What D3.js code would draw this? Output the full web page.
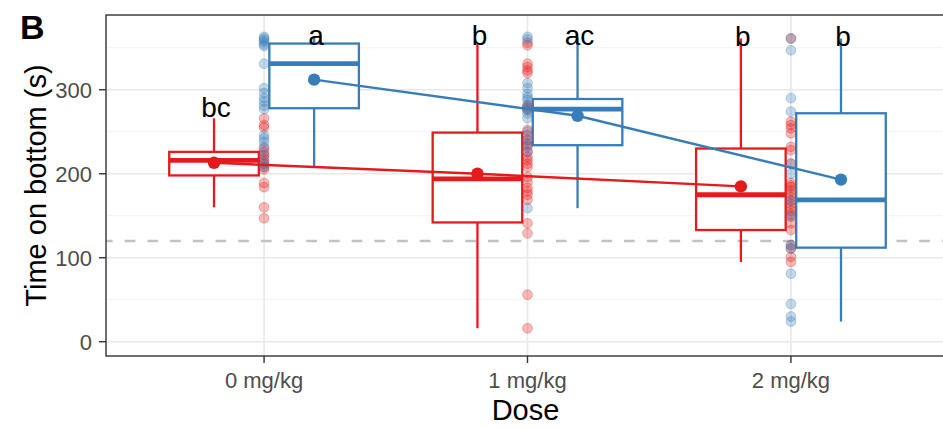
<!DOCTYPE html>
<html>
<head>
<meta charset="utf-8">
<script src="https://cdn.jsdelivr.net/npm/d3@7"></script>
<style>
  body { margin: 0; background: #fff; }
  text { font-family: "Liberation Sans", Arial, sans-serif; }
  .grid-major { stroke: #e8e8e8; stroke-width: 1.6; }
  .grid-minor { stroke: #f1f1f1; stroke-width: 0.9; }
  .tick-label { fill: #4d4d4d; font-size: 22px; }
  .axis-title { fill: #000; font-size: 29px; }
</style>
</head>
<body>
<div id="chart-area"></div>
<script>
// data
const doses = ["0 mg/kg", "1 mg/kg", "2 mg/kg"]
const groups = ["red", "blue"]
const groupColors = ["#e41a1c", "#377eb8"]

const yTicks = [0, 100, 200, 300]
const yMinorTicks = [50, 150, 250, 350]
const refLine = 120

// box stats per dose [red, blue]
const boxLow    = [[160, 208], [16, 159], [95, 24]]
const boxQ1     = [[198, 278], [142, 234], [133, 112]]
const boxMedian = [[216, 331], [194, 277], [175, 169]]
const boxQ3     = [[226, 355], [249, 289], [230, 272]]
const boxHigh   = [[266, 363], [356, 362], [361, 361]]
const groupMeans = [[213, 312], [200, 269], [185, 193]]

const letters = [["bc", "a"], ["b", "ac"], ["b", "b"]]
const letterY = [[267, 353], [353, 353], [352, 352]]

// individual points per dose [red, blue]
const redPoints = [
  [266, 258, 255, 230, 226, 222, 218, 215, 212, 208, 205, 189, 184, 160, 147],
  [356, 353, 331, 327, 323, 320, 282, 279, 276, 252, 246, 240, 236, 232, 226, 220, 216, 212, 208, 196, 190, 183, 179, 175, 169, 141, 129, 56, 16],
  [361, 262, 258, 254, 248, 232, 228, 212, 189, 186, 184, 180, 176, 172, 168, 164, 160, 156, 152, 149, 141, 133, 115, 111, 101, 95]
]
const bluePoints = [
  [363, 361, 359, 357, 354, 352, 331, 302, 296, 290, 286, 281, 277, 246, 242, 238, 232, 222, 212, 208],
  [363, 360, 308, 302, 295, 291, 288, 281, 278, 276, 272, 266, 250, 240, 234, 226, 159],
  [361, 347, 290, 274, 212, 200, 168, 150, 115, 111, 81, 45, 30, 24]
]

async function drawChart() {

  // 1. Dimensions
  const dimensions = {
    width: 943,
    height: 428,
    margin: { top: 15, right: -6, bottom: 72, left: 106 },
  }
  dimensions.boundedWidth = dimensions.width - dimensions.margin.left - dimensions.margin.right
  dimensions.boundedHeight = dimensions.height - dimensions.margin.top - dimensions.margin.bottom

  // 2. Canvas
  const wrapper = d3.select("#chart-area")
    .append("svg")
      .attr("width", dimensions.width)
      .attr("height", dimensions.height)

  wrapper.append("defs").append("clipPath")
      .attr("id", "panel-clip")
    .append("rect")
      .attr("width", dimensions.boundedWidth)
      .attr("height", dimensions.boundedHeight)

  const bounds = wrapper.append("g")
      .attr("transform", `translate(${dimensions.margin.left}, ${dimensions.margin.top})`)

  // 3. Scales
  const xScale = d3.scalePoint()
    .domain(doses)
    .range([0, dimensions.boundedWidth])
    .padding(0.6)

  const step = xScale.step()
  const dodge = step * 0.19
  const boxWidth = step * 0.34
  const groupX = (dose, gi) => xScale(dose) + (gi === 0 ? -dodge : dodge)

  const yScale = d3.scaleLinear()
    .domain([-17, 389])
    .range([dimensions.boundedHeight, 0])

  // 4. Peripherals
  const grid = bounds.append("g")
  yMinorTicks.forEach(d => {
    grid.append("line")
      .attr("class", "grid-minor")
      .attr("x2", dimensions.boundedWidth)
      .attr("y1", yScale(d))
      .attr("y2", yScale(d))
  })
  yTicks.forEach(d => {
    grid.append("line")
      .attr("class", "grid-major")
      .attr("x2", dimensions.boundedWidth)
      .attr("y1", yScale(d))
      .attr("y2", yScale(d))
  })
  doses.forEach(d => {
    grid.append("line")
      .attr("class", "grid-major")
      .attr("x1", xScale(d))
      .attr("x2", xScale(d))
      .attr("y2", dimensions.boundedHeight)
  })

  bounds.append("line")
    .attr("x2", dimensions.boundedWidth)
    .attr("y1", yScale(refLine))
    .attr("y2", yScale(refLine))
    .attr("stroke", "#c2c2c2")
    .attr("stroke-width", 2.4)
    .attr("stroke-dasharray", "10.7 12")
    .attr("stroke-dashoffset", 4)

  // 5. Draw data
  const data = bounds.append("g").attr("clip-path", "url(#panel-clip)")

  doses.forEach((dose, di) => {
    groups.forEach((g, gi) => {
      const cx = groupX(dose, gi)
      const color = groupColors[gi]
      const box = data.append("g")

      box.append("line")
        .attr("x1", cx).attr("x2", cx)
        .attr("y1", yScale(boxQ3[di][gi]))
        .attr("y2", yScale(boxHigh[di][gi]))
        .attr("stroke", color).attr("stroke-width", 2.3)
      box.append("line")
        .attr("x1", cx).attr("x2", cx)
        .attr("y1", yScale(boxQ1[di][gi]))
        .attr("y2", yScale(boxLow[di][gi]))
        .attr("stroke", color).attr("stroke-width", 2.3)
      box.append("rect")
        .attr("x", cx - boxWidth / 2)
        .attr("width", boxWidth)
        .attr("y", yScale(boxQ3[di][gi]))
        .attr("height", yScale(boxQ1[di][gi]) - yScale(boxQ3[di][gi]))
        .attr("fill", "white")
        .attr("stroke", color).attr("stroke-width", 2.3)
      box.append("line")
        .attr("x1", cx - boxWidth / 2)
        .attr("x2", cx + boxWidth / 2)
        .attr("y1", yScale(boxMedian[di][gi]))
        .attr("y2", yScale(boxMedian[di][gi]))
        .attr("stroke", color).attr("stroke-width", 4.8)
    })
  })

  // points sit on the dose line itself
  const pointSets = [redPoints, bluePoints]
  pointSets.forEach((set, gi) => {
    set.forEach((vals, di) => {
      data.selectAll(null)
        .data(vals)
        .join("circle")
          .attr("cx", xScale(doses[di]))
          .attr("cy", d => yScale(d))
          .attr("r", 4.9)
          .attr("fill", groupColors[gi])
          .attr("fill-opacity", 0.3)
          .attr("stroke", groupColors[gi])
          .attr("stroke-opacity", 0.3)
          .attr("stroke-width", 1)
    })
  })

  // mean lines + mean points
  const lineGenerator = d3.line()
    .x(d => d.x)
    .y(d => yScale(d.y))

  groups.forEach((g, gi) => {
    const pts = doses.map((dose, di) => ({ x: groupX(dose, gi), y: groupMeans[di][gi] }))
    data.append("path")
      .attr("d", lineGenerator(pts))
      .attr("fill", "none")
      .attr("stroke", groupColors[gi])
      .attr("stroke-width", 2.4)
    data.selectAll(null)
      .data(pts)
      .join("circle")
        .attr("cx", d => d.x)
        .attr("cy", d => yScale(d.y))
        .attr("r", 6.2)
        .attr("fill", groupColors[gi])
  })

  // significance letters
  doses.forEach((dose, di) => {
    groups.forEach((g, gi) => {
      bounds.append("text")
        .attr("x", groupX(dose, gi) + 2)
        .attr("y", yScale(letterY[di][gi]))
        .attr("text-anchor", "middle")
        .style("font-size", "28px")
        .attr("fill", "#000")
        .text(letters[di][gi])
    })
  })

  // panel border
  bounds.append("rect")
    .attr("width", dimensions.boundedWidth)
    .attr("height", dimensions.boundedHeight)
    .attr("fill", "none")
    .attr("stroke", "#333")
    .attr("stroke-width", 1.4)

  // axes
  yTicks.forEach(d => {
    bounds.append("line")
      .attr("x1", -7).attr("x2", 0)
      .attr("y1", yScale(d)).attr("y2", yScale(d))
      .attr("stroke", "#333").attr("stroke-width", 1.4)
    bounds.append("text")
      .attr("class", "tick-label")
      .attr("x", -14)
      .attr("y", yScale(d))
      .attr("dy", "0.36em")
      .attr("text-anchor", "end")
      .text(d)
  })
  doses.forEach(d => {
    bounds.append("line")
      .attr("x1", xScale(d)).attr("x2", xScale(d))
      .attr("y1", dimensions.boundedHeight)
      .attr("y2", dimensions.boundedHeight + 7)
      .attr("stroke", "#333").attr("stroke-width", 1.4)
    bounds.append("text")
      .attr("class", "tick-label")
      .attr("x", xScale(d))
      .attr("y", dimensions.boundedHeight + 32)
      .attr("text-anchor", "middle")
      .text(d)
  })

  wrapper.append("text")
    .attr("class", "axis-title")
    .attr("x", dimensions.margin.left + dimensions.boundedWidth / 2 - 2)
    .attr("y", 420)
    .attr("text-anchor", "middle")
    .text("Dose")

  wrapper.append("text")
    .attr("class", "axis-title")
    .attr("transform", `translate(46, ${dimensions.margin.top + dimensions.boundedHeight / 2}) rotate(-90)`)
    .attr("text-anchor", "middle")
    .text("Time on bottom (s)")

  wrapper.append("text")
    .attr("x", 20)
    .attr("y", 39)
    .style("font-size", "34px")
    .style("font-weight", "bold")
    .text("B")
}
drawChart()
</script>
</body>
</html>
